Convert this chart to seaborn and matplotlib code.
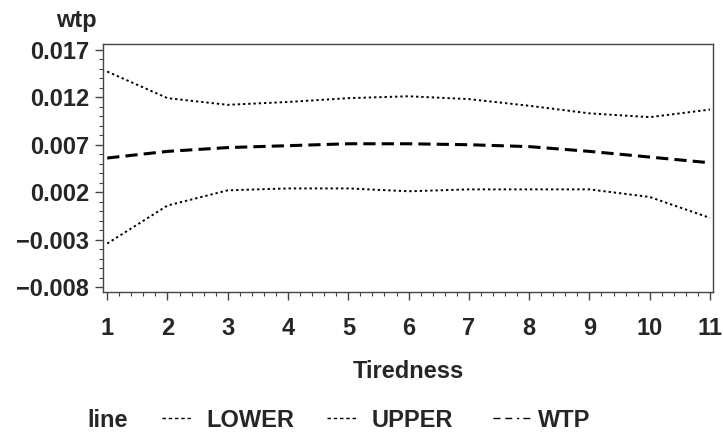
import pandas as pd
import seaborn as sns
import matplotlib.pyplot as plt
from matplotlib.ticker import MultipleLocator, FixedLocator
from matplotlib.lines import Line2D

tiredness = [1, 2, 3, 4, 5, 6, 7, 8, 9, 10, 11]
lower = [-0.0034, 0.0006, 0.0022, 0.0024, 0.0024, 0.0021, 0.0023, 0.0023, 0.0023, 0.0015, -0.0007]
upper = [0.0147, 0.0119, 0.0112, 0.0115, 0.0119, 0.0121, 0.0118, 0.0111, 0.0103, 0.0099, 0.0107]
wtp = [0.0056, 0.0063, 0.0067, 0.0069, 0.0071, 0.0071, 0.0070, 0.0068, 0.0063, 0.0057, 0.0051]
series_names = ["LOWER", "UPPER", "WTP"]
y_ticks = [-0.008, -0.003, 0.002, 0.007, 0.012, 0.017]

df = pd.DataFrame({
    "Tiredness": tiredness * 3,
    "wtp": lower + upper + wtp,
    "line": [n for n in series_names for _ in tiredness],
})

sns.set_theme(style="white")
plt.rcParams["font.family"] = ["Liberation Sans", "DejaVu Sans"]
plt.rcParams["font.weight"] = "bold"

FS = 17
W, H = 723, 436


def fx(px):
    return px / W


def fy(py):
    return 1 - py / H


fig = plt.figure(figsize=(W / 100, H / 100), dpi=100)
ax = fig.add_axes([fx(103), fy(292), fx(610), 248 / H])

dashes = {"LOWER": (1.2, 1.5), "UPPER": (1.2, 1.5), "WTP": (4, 2)}
widths = {"LOWER": 1.4, "UPPER": 1.4, "WTP": 2.2}
sns.lineplot(data=df, x="Tiredness", y="wtp", hue="line", style="line",
             palette={n: "black" for n in series_names}, dashes=dashes,
             ax=ax, legend=False)
for line, name in zip(ax.get_lines(), series_names):
    line.set_linewidth(widths[name])

ax.set_xlim(0.93, 11.05)
ax.set_ylim(-0.0085, 0.0176)
ax.xaxis.set_major_locator(FixedLocator(tiredness))
ax.xaxis.set_minor_locator(MultipleLocator(0.2))
ax.yaxis.set_major_locator(FixedLocator(y_ticks))
ax.yaxis.set_minor_locator(MultipleLocator(0.001))
ax.set_yticklabels([f"{v:.3f}".replace("-", "\u2212") for v in y_ticks])

for side in ["left", "right", "top", "bottom"]:
    ax.spines[side].set_color("#444444")
    ax.spines[side].set_linewidth(1.0)

ax.tick_params(axis="both", which="major", direction="out", length=6, width=1,
               color="#444444", labelsize=FS, left=True, bottom=True)
ax.tick_params(axis="both", which="minor", direction="out", length=3, width=0.8,
               color="#444444", left=True, bottom=True)
ax.tick_params(axis="x", which="major", pad=12)
ax.tick_params(axis="y", which="major", pad=4)
for lab in ax.get_xticklabels() + ax.get_yticklabels():
    lab.set_fontweight("bold")

ax.set_xlabel("")
ax.set_ylabel("")
fig.text(fx(408), fy(371), "Tiredness", fontsize=FS, fontweight="bold",
         ha="center", va="center")
fig.text(fx(76), fy(20), "wtp", fontsize=FS, fontweight="bold",
         ha="center", va="center")

# legend row: title, then sample line + label for each series
leg_y = fy(420)
fig.text(fx(87), leg_y, "line", fontsize=FS, fontweight="bold", ha="left", va="center")
legend_items = [
    ("LOWER", 162, 193, 206, (0, (2.5, 2))),
    ("UPPER", 327, 358, 372, (0, (2.5, 2))),
    ("WTP", 493, 530, 538, (0, (5, 3.5, 5, 3.5, 1.5, 3))),
]
for name, x0, x1, tx, ls in legend_items:
    fig.add_artist(Line2D([fx(x0), fx(x1)], [fy(418), fy(418)], transform=fig.transFigure,
                          color="black", linewidth=1.0, linestyle=ls))
    fig.text(fx(tx), leg_y, name, fontsize=FS, fontweight="bold", ha="left", va="center")

fig.savefig("out.png", dpi=100)
